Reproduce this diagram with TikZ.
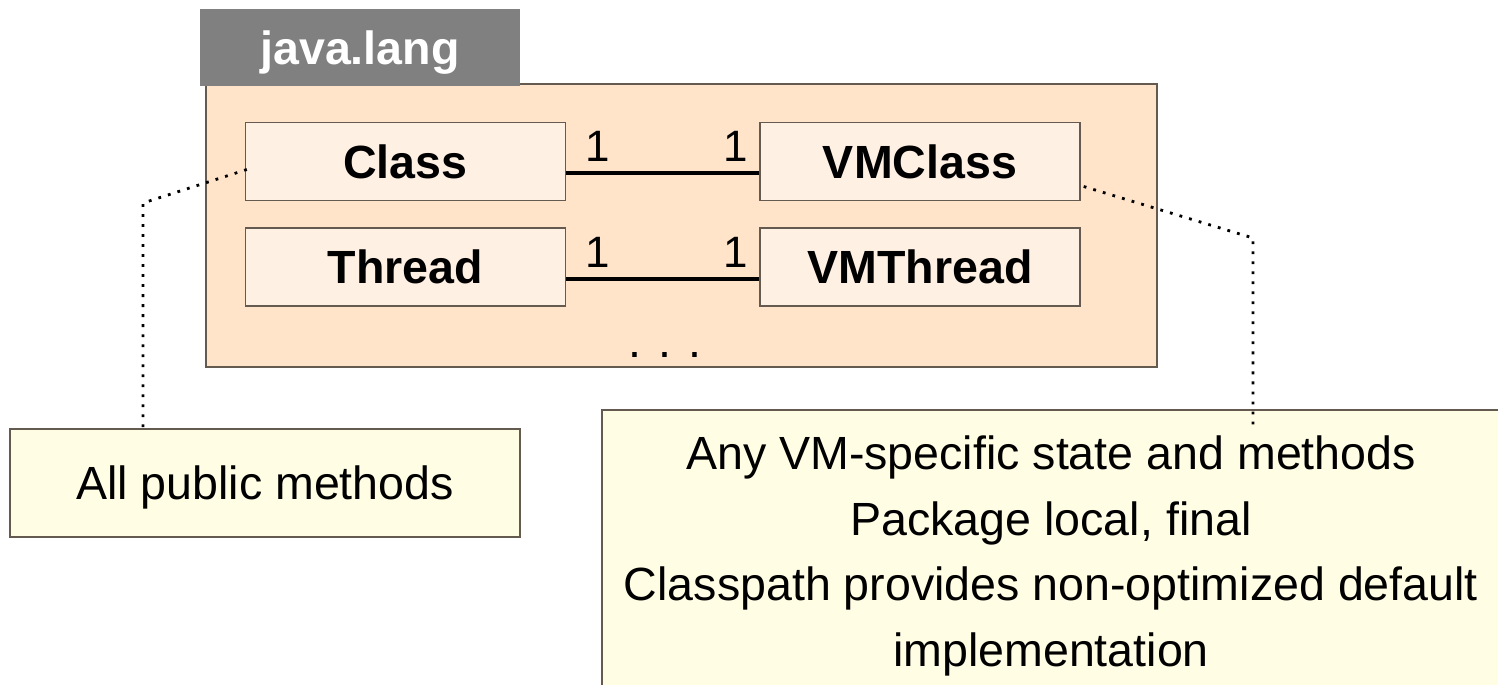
\documentclass[tikz,border=0pt]{standalone}
\usepackage{fontspec}
\setmainfont{Liberation Sans}
\usetikzlibrary{positioning, calc}
\definecolor{pkggray}{RGB}{128, 128, 128}
\definecolor{pkgfill}{RGB}{255, 228, 202}
\definecolor{clsfill}{RGB}{255, 240, 228}
\definecolor{notefill}{RGB}{255, 253, 228}
\definecolor{boxline}{RGB}{100, 90, 80}

\begin{document}
\begin{tikzpicture}[x=0.02cm, y=-0.02cm, font=\fontsize{26.5}{32}\selectfont,
  clsbox/.style={draw=boxline, line width=0.8pt, fill=clsfill, minimum width=6.4cm, minimum height=1.56cm, font=\fontsize{26.5}{32}\selectfont\bfseries},
  notebox/.style={draw=boxline, line width=0.8pt, fill=notefill, align=center},
  assoc/.style={line width=2pt, black},
  mult/.style={font=\fontsize{25}{30}\selectfont, inner sep=1pt},
  notelink/.style={line width=1.6pt, dash pattern=on 1.6pt off 4.1pt}]

\useasboundingbox (0,0) rectangle (1498,684);

% --- Paquete java.lang ---
\node[draw=boxline, line width=0.8pt, fill=pkgfill, minimum width=19.02cm, minimum height=5.66cm] (pkg) at (681.5, 225.5) {};
\node[fill=pkggray, text=white, text depth=0pt, minimum width=6.4cm, minimum height=1.54cm, font=\fontsize{26.5}{32}\selectfont\bfseries] (tab) at (360, 47.5) {java.lang};

% Clases
\node[clsbox] (class) at (405.5, 161.5) {Class};
\node[clsbox] (thread) at (405.5, 267) {Thread};
\node[clsbox] (vmclass) at (920, 161.5) {VMClass};
\node[clsbox] (vmthread) at (920, 267) {VMThread};

% Asociaciones 1 -- 1
\draw[assoc] ([yshift=-0.23cm]class.east) -- ([yshift=-0.23cm]vmclass.west);
\draw[assoc] ([yshift=-0.24cm]thread.east) -- ([yshift=-0.24cm]vmthread.west);
\node[mult] (m1) at (598, 146) {1};
\node[mult] (m2) at (736, 146) {1};
\node[mult] (m3) at (598, 252) {1};
\node[mult] (m4) at (736, 252) {1};

\node (more) at (665, 355) {. . .};

% --- Notas ---
\node[notebox, text depth=0pt, minimum width=10.2cm, minimum height=2.16cm] (pubnote) at (265, 483) {All public methods};
\node[notebox, minimum width=17.96cm, minimum height=5.84cm, font=\fontsize{26.5}{37.5}\selectfont] (vmnote) at (1051, 556)
  {Any VM-specific state and methods\\Package local, final\\Classpath provides non-optimized default\\implementation};

% Enlaces punteados
\coordinate (lbend) at (143, 203);
\coordinate (rbend) at (1253, 238);
\draw[notelink] ($(class.west)+(2,8)$) -- (lbend) -- (lbend |- pubnote.north);
\draw[notelink] ($(vmclass.east)+(3,25)$) -- (rbend) -- ($(rbend |- vmnote.north)+(0,20)$);

\end{tikzpicture}
\end{document}
